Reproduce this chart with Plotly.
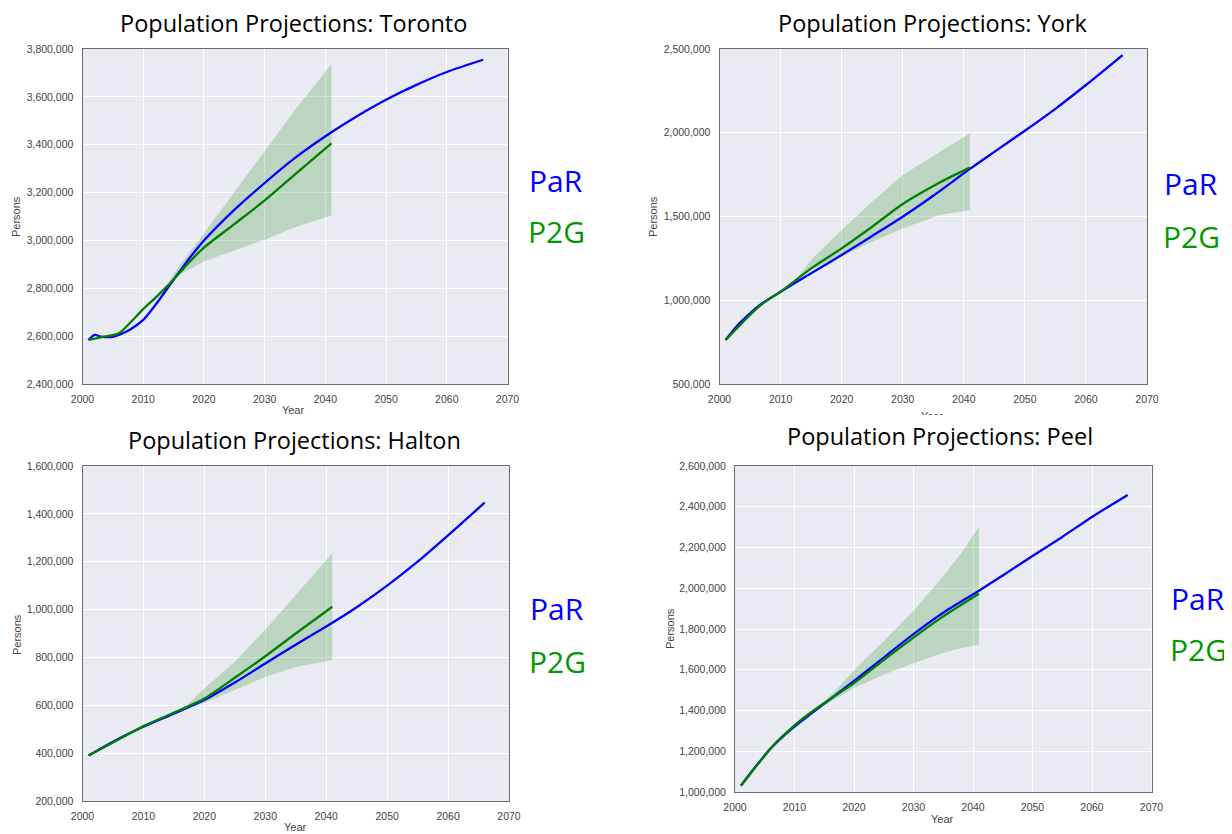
import plotly.graph_objects as go

W, H = 1232, 834          # window size
OFF = 8                   # page body margin of the html page
FW, FH = W - OFF, H - OFF # figure size so that it fills the window

# ---------------- data (persons) ----------------
# Toronto
TOR_PAR_YEARS = [2001, 2002, 2003, 2005, 2006, 2008, 2010, 2012, 2014, 2016, 2018, 2020, 2025, 2030, 2035, 2041, 2045, 2050, 2055, 2060, 2066]
TOR_PAR = [2584000, 2605000, 2598000, 2597000, 2605000, 2630000, 2668000, 2730000, 2800000, 2870000, 2938000, 3000000, 3128000, 3240000, 3345000, 3452000, 3516000, 3588000, 3650000, 3704000, 3755000]
TOR_P2G_YEARS = [2001, 2003, 2006, 2008, 2010, 2012, 2014, 2016, 2018, 2020, 2025, 2030, 2035, 2041]
TOR_P2G = [2584000, 2595000, 2612000, 2660000, 2713000, 2760000, 2810000, 2865000, 2920000, 2970000, 3068000, 3167000, 3276000, 3406000]
TOR_BAND_YEARS = [2014, 2016, 2020, 2025, 2030, 2035, 2041]
TOR_BAND_HI = [2820000, 2895000, 3030000, 3200000, 3370000, 3545000, 3736000]
TOR_BAND_LO = [2820000, 2858000, 2912000, 2958000, 3003000, 3055000, 3104000]

# York
YRK_PAR_YEARS = [2001, 2003, 2005, 2007, 2010, 2015, 2020, 2025, 2030, 2035, 2041, 2045, 2050, 2055, 2060, 2066]
YRK_PAR = [763000, 852000, 922000, 982000, 1051000, 1161000, 1270000, 1384000, 1499000, 1624000, 1784000, 1886000, 2012000, 2143000, 2285000, 2464000]
YRK_P2G_YEARS = [2001, 2003, 2005, 2007, 2010, 2015, 2020, 2025, 2030, 2036, 2041]
YRK_P2G = [763000, 838000, 912000, 978000, 1051000, 1190000, 1310000, 1439000, 1575000, 1702000, 1792000]
YRK_BAND_YEARS = [2012, 2015, 2020, 2025, 2030, 2036, 2041]
YRK_BAND_HI = [1100000, 1240000, 1419000, 1589000, 1748000, 1881000, 1997000]
YRK_BAND_LO = [1100000, 1180000, 1262000, 1350000, 1429000, 1509000, 1539000]

# Halton
HAL_PAR_YEARS = [2001, 2005, 2010, 2015, 2020, 2025, 2030, 2035, 2041, 2045, 2050, 2055, 2060, 2066]
HAL_PAR = [390000, 448000, 510000, 565000, 622000, 695000, 775000, 853000, 945000, 1010000, 1100000, 1200000, 1310000, 1447000]
HAL_P2G_YEARS = [2001, 2006, 2010, 2016, 2020, 2025, 2030, 2035, 2041]
HAL_P2G = [390000, 458000, 513000, 580000, 628000, 715000, 805000, 900000, 1012000]
HAL_BAND_YEARS = [2015, 2017, 2020, 2025, 2030, 2035, 2038, 2041]
HAL_BAND_HI = [565000, 598000, 670000, 782000, 916000, 1061000, 1152000, 1235000]
HAL_BAND_LO = [565000, 585000, 610000, 665000, 718000, 760000, 775000, 789000]

# Peel
PEL_PAR_YEARS = [2001, 2003, 2006, 2008, 2011, 2015, 2020, 2025, 2030, 2035, 2041, 2045, 2050, 2055, 2060, 2066]
PEL_PAR = [1031000, 1108000, 1214000, 1271000, 1344000, 1434000, 1545000, 1660000, 1775000, 1880000, 1988000, 2063000, 2158000, 2252000, 2350000, 2458000]
PEL_P2G_YEARS = [2001, 2003, 2006, 2008, 2011, 2015, 2020, 2025, 2030, 2035, 2041]
PEL_P2G = [1031000, 1105000, 1214000, 1274000, 1352000, 1437000, 1535000, 1648000, 1758000, 1862000, 1973000]
PEL_BAND_YEARS = [2012, 2015, 2017, 2020, 2025, 2030, 2035, 2038, 2041]
PEL_BAND_HI = [1370000, 1445000, 1500000, 1597000, 1740000, 1890000, 2060000, 2170000, 2303000]
PEL_BAND_LO = [1370000, 1425000, 1460000, 1510000, 1575000, 1632000, 1683000, 1705000, 1723000]

TITLES = ["Population Projections: Toronto", "Population Projections: York",
          "Population Projections: Halton", "Population Projections: Peel"]
X_TICKS = [2000, 2010, 2020, 2030, 2040, 2050, 2060, 2070]

# ---------------- layout geometry (window pixels) ----------------
panels = [
    dict(par=(TOR_PAR_YEARS, TOR_PAR), p2g=(TOR_P2G_YEARS, TOR_P2G),
         band=(TOR_BAND_YEARS, TOR_BAND_HI, TOR_BAND_LO),
         box=(82.5, 507.5, 49, 384), yr=(2400000, 3800000), dt=200000,
         title=(293, 23), persons=(16, 217), year=None,
         lab=(556, 181, 232)),
    dict(par=(YRK_PAR_YEARS, YRK_PAR), p2g=(YRK_P2G_YEARS, YRK_P2G),
         band=(YRK_BAND_YEARS, YRK_BAND_HI, YRK_BAND_LO),
         box=(719.5, 1147, 49, 384), yr=(500000, 2500000), dt=500000,
         title=(932, 23), persons=(653, 217), year=None,
         lab=(1191, 183, 236)),
    dict(par=(HAL_PAR_YEARS, HAL_PAR), p2g=(HAL_P2G_YEARS, HAL_P2G),
         band=(HAL_BAND_YEARS, HAL_BAND_HI, HAL_BAND_LO),
         box=(82.5, 509, 466, 801), yr=(200000, 1600000), dt=200000,
         title=(294, 440), persons=(17, 635), year=(295, 827),
         lab=(557, 608, 661)),
    dict(par=(PEL_PAR_YEARS, PEL_PAR), p2g=(PEL_P2G_YEARS, PEL_P2G),
         band=(PEL_BAND_YEARS, PEL_BAND_HI, PEL_BAND_LO),
         box=(735, 1151.5, 466, 792), yr=(1000000, 2600000), dt=200000,
         title=(940, 436), persons=(670, 629), year=(942, 819),
         lab=(1198, 598, 649)),
]

BG = "#EAEAF2"
BLUE = "#0000FF"
GREEN = "#008000"
FILL = "rgba(0,128,0,0.2)"
TICK_FONT = dict(family="Liberation Sans, Arial, sans-serif", size=10.5, color="#444444")
TITLE_FONT = dict(family="Open Sans, Calibri, sans-serif", size=23.5, color="#000000")
LAB_FAMILY = "Open Sans, Calibri, sans-serif"

fig = go.Figure()
layout = dict(width=FW, height=FH, margin=dict(l=0, r=0, t=0, b=0, autoexpand=False),
              paper_bgcolor="white", plot_bgcolor="rgba(0,0,0,0)",
              showlegend=False, template="none")
shapes = []
annotations = []


def px(x):
    return (x - OFF) / FW


def py(y):
    return 1 - (y - OFF) / FH


for i, p in enumerate(panels, start=1):
    xa = "x" if i == 1 else f"x{i}"
    ya = "y" if i == 1 else f"y{i}"
    l, r, t, b = p["box"]
    layout[f"xaxis{'' if i == 1 else i}"] = dict(
        domain=[px(l), px(r)], range=[2000, 2070], tickvals=X_TICKS,
        showgrid=True, gridcolor="white", gridwidth=1.2, zeroline=False,
        showline=True, linecolor="#6b6b6b", linewidth=1, mirror=True,
        ticks="", tickfont=TICK_FONT, anchor=ya, fixedrange=True,
        automargin=False, ticklabelstandoff=5)
    layout[f"yaxis{'' if i == 1 else i}"] = dict(
        domain=[py(b), py(t)], range=list(p["yr"]), dtick=p["dt"], tick0=0,
        tickformat=",d", showgrid=True, gridcolor="white", gridwidth=1.2,
        zeroline=False, showline=True, linecolor="#6b6b6b", linewidth=1,
        mirror=True, ticks="", tickfont=TICK_FONT, anchor=xa, fixedrange=True,
        automargin=False, ticklabelstandoff=6)
    shapes.append(dict(type="rect", xref=f"{xa} domain", yref=f"{ya} domain",
                       x0=0, x1=1, y0=0, y1=1, fillcolor=BG,
                       line=dict(width=0), layer="below"))

    by, bh, bl = p["band"]
    fig.add_trace(go.Scatter(x=list(by) + list(by)[::-1], y=list(bh) + list(bl)[::-1],
                             fill="toself", fillcolor=FILL, line=dict(width=0),
                             mode="lines", hoverinfo="skip", xaxis=xa, yaxis=ya))
    fig.add_trace(go.Scatter(x=p["par"][0], y=p["par"][1], mode="lines",
                             line=dict(color=BLUE, width=2.3, shape="spline", smoothing=0.8),
                             xaxis=xa, yaxis=ya, name="PaR"))
    fig.add_trace(go.Scatter(x=p["p2g"][0], y=p["p2g"][1], mode="lines",
                             line=dict(color=GREEN, width=2.3, shape="spline", smoothing=0.8),
                             xaxis=xa, yaxis=ya, name="P2G"))

    tx, ty = p["title"]
    annotations.append(dict(text=TITLES[i - 1], x=px(tx), y=py(ty), xref="paper", yref="paper",
                            xanchor="center", yanchor="middle", showarrow=False, font=TITLE_FONT))
    sx, sy = p["persons"]
    annotations.append(dict(text="Persons", x=px(sx), y=py(sy), xref="paper", yref="paper",
                            xanchor="center", yanchor="middle", showarrow=False, textangle=-90,
                            font=dict(family="Liberation Sans, Arial, sans-serif", size=11, color="#444444")))
    if p["year"] is not None:
        yx, yy = p["year"]
        annotations.append(dict(text="Year", x=px(yx), y=py(yy), xref="paper", yref="paper",
                                xanchor="center", yanchor="middle", showarrow=False,
                                font=dict(family="Liberation Sans, Arial, sans-serif", size=11, color="#444444")))
    lx, l1, l2 = p["lab"]
    annotations.append(dict(text="PaR", x=px(lx), y=py(l1), xref="paper", yref="paper",
                            xanchor="center", yanchor="middle", showarrow=False,
                            font=dict(family=LAB_FAMILY, size=30, color="#0000FF")))
    annotations.append(dict(text="P2G", x=px(lx), y=py(l2), xref="paper", yref="paper",
                            xanchor="center", yanchor="middle", showarrow=False,
                            font=dict(family=LAB_FAMILY, size=30, color="#009A00")))

# clipped "Year" labels of the top row (cut off in the original slide)
layout["xaxis5"] = dict(domain=[0, 1], range=[OFF, OFF + FW], visible=False, fixedrange=True, anchor="y5")
layout["yaxis5"] = dict(domain=[py(415), py(398)], range=[415, 398], visible=False, fixedrange=True, anchor="x5")
fig.add_trace(go.Scatter(x=[293, 932], y=[411, 417], mode="text", text=["Year", "Year"],
                         textposition="middle center", cliponaxis=True, hoverinfo="skip",
                         textfont=dict(family="Liberation Sans, Arial, sans-serif", size=11, color="#444444"),
                         xaxis="x5", yaxis="y5"))

layout["shapes"] = shapes
layout["annotations"] = annotations
fig.update_layout(**layout)
fig.write_html("out.html")
